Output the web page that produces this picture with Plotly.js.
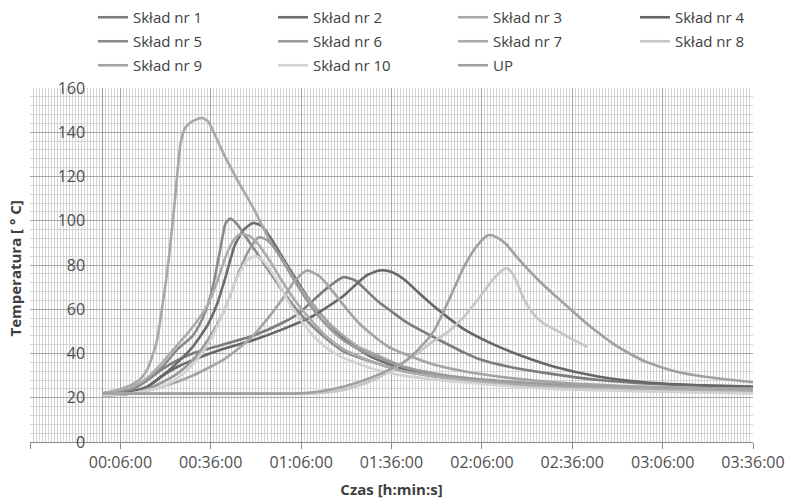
<!DOCTYPE html>
<html><head><meta charset="utf-8">
<script src="https://cdn.plot.ly/plotly-3.0.1.min.js"></script>
<style>html,body{margin:0;padding:0;background:#fff}#chart{width:788px;height:502px}</style>
</head><body><div id="chart"></div><script>
// time in minutes from start, temperature in deg C
const seriesNames = ['Skład nr 1','Skład nr 2','Skład nr 3','Skład nr 4','Skład nr 5','Skład nr 6','Skład nr 7','Skład nr 8','Skład nr 9','Skład nr 10','UP'];

const t_nr1 = [0,10,15,20,25,30,40,50,60,65,70,75,80,84,88,92,96,100,105,112,120,125,135,148,165,180,216];
const T_nr1 = [21,24,28,33,37,40,44,48,54,58,64,70,74.5,73,68,63,59,55,51,46,40.5,37.5,34,31,28,26.5,25];

const t_nr2 = [0,10,15,20,25,30,35,38,41,44,47,50,53,56,60,65,70,75,80,85,90,100,110,120,135,150,180,216];
const T_nr2 = [21,23,25,30,36,43,53,62,75,89,96,99,97.5,92,83,72,62,54,47,42,38,33,30,28,26,25,24,23.5];

const t_nr3 = [0,5,10,13,15,18,20,22,24,26,27.5,30,33,35,37,40,45,50,53,56,60,65,70,75,80,85,90,100,110,120,135,150,165,180,200,216];
const T_nr3 = [22,23.5,26,29,33,45,62,82,108,135,142,145,146.5,145,140,131,118,106,98,90,82,71,62,54,48,43,40,34,31,29,27,26,25,24.5,24,23.5];

const t_nr4 = [0,10,15,20,25,30,40,50,60,70,80,84,88,92,95,98,101,105,110,115,120,130,140,150,165,180,200,216];
const T_nr4 = [21,22,25,30,34,37,42,46,51,57,66,71,75.5,77.5,77.3,75.5,72.5,67.5,61.5,56,51,44,38.5,34,29.5,27,25.5,25];

const t_nr5 = [0,10,15,20,25,30,33,35,37,39,41,42.5,45,47,50,55,60,65,70,75,80,90,100,120,150,180,216];
const T_nr5 = [22,24,28,34,42,48,55,62,72,86,99,101,98,94,88,78,68,59,52,46,41,36,32,28,25,24,23];

const t_nr6 = [0,10,15,20,25,30,35,40,44,48,52,55,58,62,66,70,75,80,85,90,100,110,120,150,216];
const T_nr6 = [21,22,24,27,31,37,46,58,72,85,92.5,91,86,77,68,60,52,46,42,39,34,31,29,26,24];

const t_nr7 = [0,10,15,20,25,30,35,38,41,44,46,49,52,56,60,65,70,75,80,90,100,120,150,216];
const T_nr7 = [22,25,29,36,44,52,62,72,84,92,94,93,89,81,72,62,54,47,42,36,32,28,25,23];

const t_nr8 = [0,70,75,80,85,90,96,100,105,109,115,120,125,130,134,136,138,140,143,146,150,154,158,161];
const T_nr8 = [22,22,22.5,23.5,25.5,28,32.5,36,40.5,44.7,50,56.5,65,74,78.6,76.5,71,64.5,58,54,51,48,45,43];

const t_nr9 = [0,10,20,30,40,45,50,55,60,64,68,72,76,80,85,90,95,100,110,120,135,150,180,216];
const T_nr9 = [21,22,25,30,37,42,48,56,65,73,77.5,75,69,62,54,48,43,40,35,32,29,27,25,24];

const t_nr10 = [0,10,20,25,30,35,40,44,48,51,54,58,62,66,70,75,80,90,100,120,150,216];
const T_nr10 = [21,22,25,29,35,44,58,72,82,84,81,73,63,55,48,42,38,33,30,27,24,22];

const t_UP = [0,65,70,75,80,85,90,95,100,105,110,115,120,124,128,131,134,138,142,146,150,155,160,165,170,175,180,190,200,216];
const T_UP = [22,22,22.5,23.5,25,27,29.5,32.5,36,42,50,64,79,88,93.5,92.5,89.5,83,77,71.5,66.5,60.5,54.5,49,44,40,36.5,32,29.5,27];

const times = [t_nr1,t_nr2,t_nr3,t_nr4,t_nr5,t_nr6,t_nr7,t_nr8,t_nr9,t_nr10,t_UP];
const temps = [T_nr1,T_nr2,T_nr3,T_nr4,T_nr5,T_nr6,T_nr7,T_nr8,T_nr9,T_nr10,T_UP];
const colors = ['#7c7c7c','#6c6c6c','#a8a8a8','#666666','#8a8a8a','#9a9a9a','#acacac','#c6c6c6','#a4a4a4','#d2d2d2','#a0a0a0'];
const legendOf = ['legend','legend2','legend3','legend4','legend','legend2','legend3','legend4','legend','legend2','legend3'];

const MIN = 60000;
const traces = seriesNames.map((n,i)=>({
  type:'scatter', mode:'lines', name:n, legend:legendOf[i], legendgroup:n,
  x: times[i].map(t=>t*MIN), y: temps[i],
  line:{color:colors[i], width:2.6, shape:'spline', smoothing:0.6}
}));

const textFont = {family:'Open Sans, sans-serif', size:16, color:'#505050'};
const legFont = {family:'Open Sans, sans-serif', size:15, color:'#404040'};
const titleFont = {family:'Open Sans, sans-serif', size:15, weight:'bold', color:'#404040'};
function leg(x){ return {xref:'container', yref:'container', x:x, y:1-1/502, xanchor:'left', yanchor:'top',
  orientation:'v', font:legFont, bgcolor:'rgba(0,0,0,0)', tracegroupgap:1.5, borderwidth:0}; }

const layout = {
  width:788, height:502,
  margin:{l:30, r:35, t:88, b:60, autoexpand:false},
  paper_bgcolor:'#fff', plot_bgcolor:'#fff',
  showlegend:true,
  legend:leg(93/788), legend2:leg(273/788), legend3:leg(453/788), legend4:leg(635/788),
  xaxis:{
    type:'date', range:[-24*MIN, 216*MIN], domain:[0,1], automargin:false,
    tick0: 6*MIN, dtick: 30*MIN, tickformat:'%H:%M:%S',
    ticks:'outside', ticklen:6, tickcolor:'#8a8a8a',
    showline:true, linecolor:'#8a8a8a', linewidth:1,
    showgrid:true, gridcolor:'#a6a6a6', gridwidth:1,
    minor:{dtick:MIN, showgrid:true, gridcolor:'#d4d4d4', gridwidth:1},
    zeroline:false, tickfont:textFont,
    title:{text:'Czas [h:min:s]', font:titleFont, standoff:12}
  },
  yaxis:{
    range:[0,160], dtick:20, automargin:false, showticklabels:false, ticks:'',
    showline:false,
    showgrid:true, gridcolor:'#a6a6a6', gridwidth:1,
    minor:{dtick:4, showgrid:true, gridcolor:'#d4d4d4', gridwidth:1},
    zeroline:false
  },
  yaxis2:{
    range:[0,160], dtick:20, overlaying:'y', matches:'y', anchor:'free', position:(24*3.0125)/723, automargin:false,
    showline:true, linecolor:'#9a9a9a', linewidth:1,
    ticks:'', ticklabelstandoff:14, showgrid:false, zeroline:false, tickfont:textFont
  },
  annotations:[{
    text:'Temperatura [ ° C]', xref:'paper', yref:'paper', x:-15/723, y:0.49,
    xanchor:'center', yanchor:'middle', textangle:-90, showarrow:false, font:titleFont
  }]
};

// an invisible companion trace so the free value axis with tick labels is drawn
traces.push({type:'scatter', mode:'lines', x:[0], y:[0], yaxis:'y2', showlegend:false, hoverinfo:'skip', line:{width:0}});

Plotly.newPlot('chart', traces, layout, {displayModeBar:false, staticPlot:true});
</script></body></html>
